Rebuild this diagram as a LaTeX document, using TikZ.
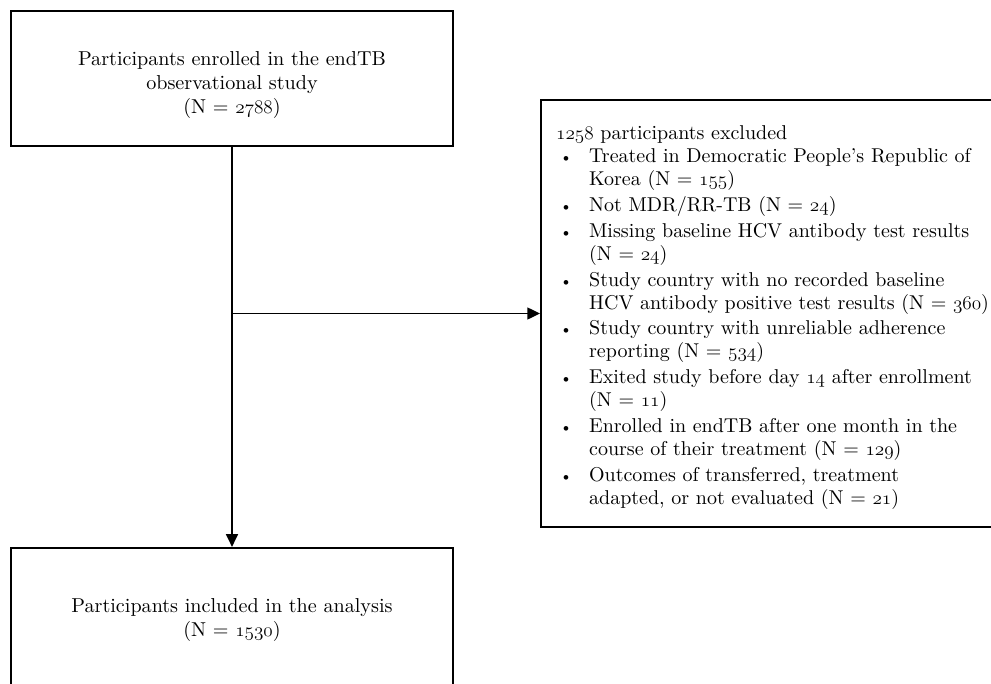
\documentclass[tikz,border=0pt]{standalone}
\usepackage{fontspec}
\setmainfont{lmroman10-regular.otf}
\usepackage{tikz}
\usetikzlibrary{positioning}
\usetikzlibrary{arrows.meta}

% old style figures taken from the math italic font
\newcommand{\osnum}[1]{{\fontencoding{OML}\fontfamily{lmm}\fontseries{m}\fontshape{it}\selectfont #1}}
\newcommand{\smallbullet}{\makebox[0pt][c]{\fontsize{12}{12}\selectfont\textbullet}}

\tikzset{
  flowbox/.style={draw, line width=1.7pt, minimum width=331.5pt, align=center,
    font=\fontsize{15.1}{18}\selectfont},
  listbox/.style={draw, line width=1.7pt, text width=330pt, inner xsep=11.25pt,
    align=left, font=\fontsize{15}{17.2}\selectfont},
  flowline/.style={line width=1pt},
  flowarrow/.style={flowline, -{Triangle[length=9.5pt,width=9pt]}},
}

\newenvironment{exclist}{\begin{list}{\smallbullet}{%
  \setlength{\leftmargin}{24.75pt}\setlength{\labelsep}{17.25pt}%
  \setlength{\labelwidth}{0pt}\setlength{\itemsep}{2.2pt}%
  \setlength{\parsep}{0pt}\setlength{\topsep}{0pt}\setlength{\partopsep}{0pt}}}%
  {\end{list}}

\begin{document}
\begin{tikzpicture}[x=0.75pt,y=0.75pt]
\useasboundingbox (0,0) rectangle (991,683);

% Enrolled box
\node[flowbox, minimum height=101.25pt] (enrolled) at (232,604.5)
  {\rule{0pt}{20pt}Participants enrolled in the endTB\\observational study\\(N = \osnum{2788})};

% Included box (runs off the bottom edge)
\node[flowbox, minimum height=108pt] (included) at (232,63)
  {Participants included in the analysis\\(N = \osnum{1530})};

% Excluded box (runs off the right edge)
\node[listbox, minimum height=320.25pt, anchor=west] (excluded) at (540,369.5) {%
\rule{0pt}{16.5pt}\osnum{1258} participants excluded
\begin{exclist}
\item Treated in Democratic People’s Republic of\\Korea (N = \osnum{155})
\item Not MDR/RR-TB (N = \osnum{24})
\item Missing baseline HCV antibody test results\\(N = \osnum{24})
\item Study country with no recorded baseline\\HCV antibody positive test results (N = \osnum{360})
\item Study country with unreliable adherence\\reporting (N = \osnum{534})
\item Exited study before day \osnum{14} after enrollment\\(N = \osnum{11})
\item Enrolled in endTB after one month in the\\course of their treatment (N = \osnum{129})
\item Outcomes of transferred, treatment\\adapted, or not evaluated (N = \osnum{21})
\end{exclist}};

% Branch point on the main line
\coordinate (branch) at (enrolled.south |- excluded.west);

\draw[flowarrow] (enrolled.south) -- (included.north);
\draw[flowarrow] (branch) -- (excluded.west);

\end{tikzpicture}
\end{document}
